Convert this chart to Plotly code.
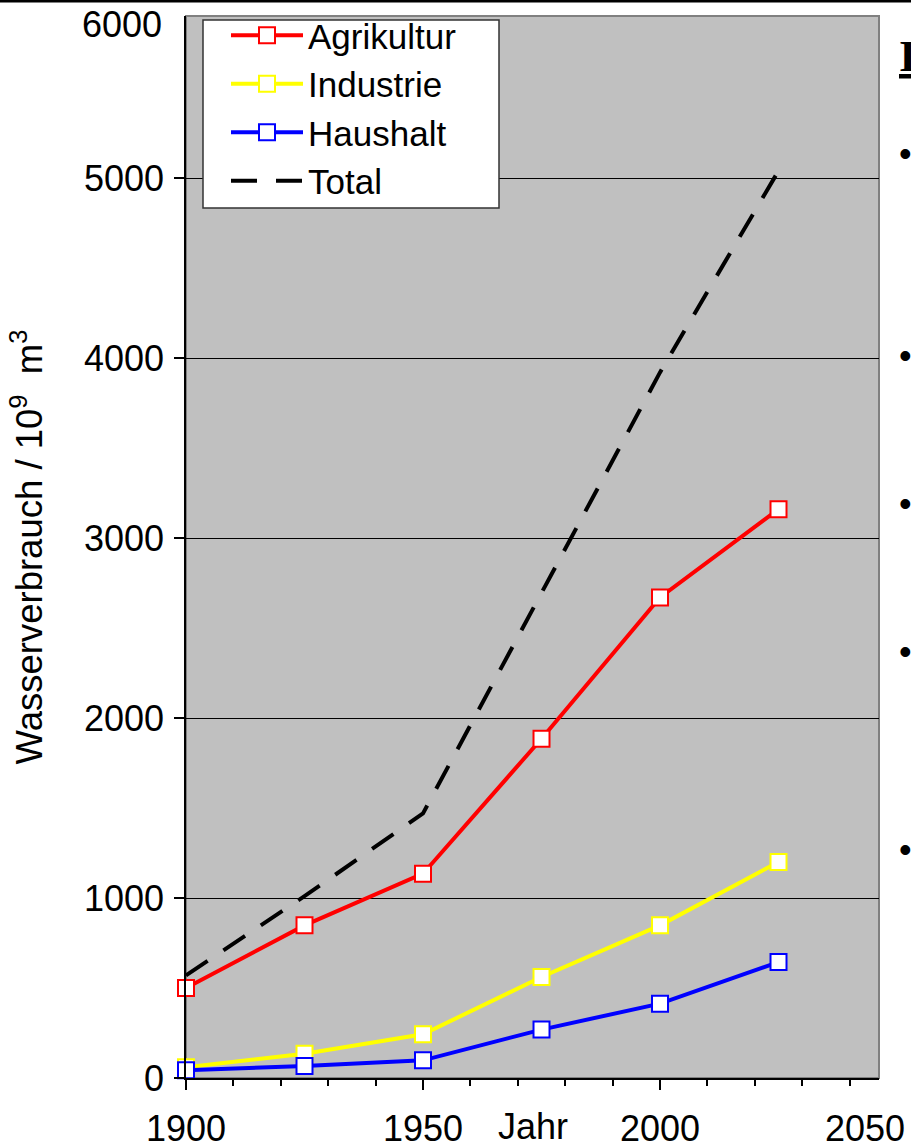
import plotly.graph_objects as go

years = [1900, 1925, 1950, 1975, 2000, 2025]
agrikultur = [500, 848, 1135, 1885, 2670, 3160]
industrie = [60, 135, 243, 561, 848, 1200]
haushalt = [43, 67, 98, 269, 413, 644]
total = [570, 1010, 1470, 2700, 3920, 5040]

series_names = ["Agrikultur", "Industrie", "Haushalt", "Total"]
y_title = "Wasserverbrauch / 10<sup>9</sup>  m<sup>3</sup>"
x_title = "Jahr"

FONT = "Arial, 'Liberation Sans', sans-serif"

fig = go.Figure()
for name, vals, col in [
    (series_names[0], agrikultur, "#FF0000"),
    (series_names[1], industrie, "#FFFF00"),
    (series_names[2], haushalt, "#0000FF"),
]:
    fig.add_trace(go.Scatter(
        x=years, y=vals, name=name, mode="lines+markers",
        line=dict(color=col, width=4),
        marker=dict(symbol="square", size=16, color="white",
                    line=dict(color=col, width=2)),
        cliponaxis=False,
    ))

fig.add_trace(go.Scatter(
    x=years, y=total, name=series_names[3], mode="lines",
    line=dict(color="black", width=4, dash="26px,19px"),
))

L, R, T, B = 186, 32, 16, 66
W, H = 911, 1144
pw, ph = W - L - R, H - T - B

def px_x(px):
    return (px - L) / pw

def px_y(py):
    return (H - B - py) / ph

fig.update_layout(
    width=W, height=H,
    margin=dict(l=L, r=R, t=T, b=B, autoexpand=False),
    paper_bgcolor="white",
    plot_bgcolor="#C0C0C0",
    font=dict(family=FONT, color="black", size=36),
    showlegend=True,
    legend=dict(
        x=px_x(226), y=px_y(6), xanchor="left", yanchor="top",
        bgcolor="rgba(0,0,0,0)", borderwidth=0,
        font=dict(family=FONT, size=35, color="black"),
        itemwidth=72,
    ),
    xaxis=dict(
        range=[1900, 2046.2], automargin=False,
        tickmode="array", tickvals=[1900, 1950, 2000],
        ticktext=["1900", "1950", "2000"],
        ticks="outside", ticklen=10, tickcolor="black", tickwidth=1.5,
        minor=dict(dtick=10, tick0=1900, ticks="outside", ticklen=6,
                   tickcolor="black", tickwidth=1.5, showgrid=False),
        showgrid=False, zeroline=False,
        showline=True, linecolor="black", linewidth=1.5,
        tickfont=dict(size=36), ticklabelstandoff=8,
    ),
    yaxis=dict(
        range=[0, 5900], automargin=False,
        tickmode="array", tickvals=[0, 1000, 2000, 3000, 4000, 5000],
        ticks="outside", ticklen=10, tickcolor="black", tickwidth=1.5,
        showgrid=True, gridcolor="black", gridwidth=1,
        zeroline=False,
        showline=True, linecolor="black", linewidth=1.5,
        tickfont=dict(size=36), ticklabelstandoff=3,
        title=dict(text=y_title, font=dict(size=36.5), standoff=30),
    ),
)

# plot-area border (gray) and slide header rule
fig.add_shape(type="rect", xref="paper", yref="paper", x0=0, x1=1, y0=0, y1=1,
              line=dict(color="#808080", width=2), layer="below")
fig.add_shape(type="line", xref="paper", yref="paper",
              x0=px_x(0), x1=px_x(W), y0=px_y(1), y1=px_y(1),
              line=dict(color="black", width=3))
# legend frame
fig.add_shape(type="rect", xref="paper", yref="paper",
              x0=px_x(203), x1=px_x(499), y0=px_y(208), y1=px_y(20),
              fillcolor="white", line=dict(color="#333333", width=1.5),
              layer="above")

# labels at the truncated axis ends
fig.add_annotation(text="2050", xref="x", yref="paper", x=2043.2, y=px_y(1128),
                   xanchor="center", yanchor="middle", showarrow=False,
                   font=dict(size=36))
fig.add_annotation(text="6000", xref="paper", yref="paper", x=px_x(164), y=px_y(25),
                   xanchor="right", yanchor="middle", showarrow=False,
                   font=dict(size=36))
fig.add_annotation(text=x_title, xref="paper", yref="paper", x=px_x(533), y=px_y(1126),
                   xanchor="center", yanchor="middle", showarrow=False,
                   font=dict(size=36))

# cut-off slide text on the right
fig.add_annotation(text="<b><u>I</u></b>", xref="paper", yref="paper",
                   x=px_x(897), y=px_y(56), xanchor="left", yanchor="middle",
                   showarrow=False,
                   font=dict(family="'Times New Roman', 'Liberation Serif', serif", size=45))
for by in [153, 355, 503, 651, 849]:
    fig.add_annotation(text="•", xref="paper", yref="paper",
                       x=px_x(906), y=px_y(by), xanchor="center", yanchor="middle",
                       showarrow=False, font=dict(size=36))

fig.write_html(
    "out.html",
    config={"displayModeBar": False},
    post_script="document.body.style.margin='0px';document.body.style.overflow='hidden';",
)
